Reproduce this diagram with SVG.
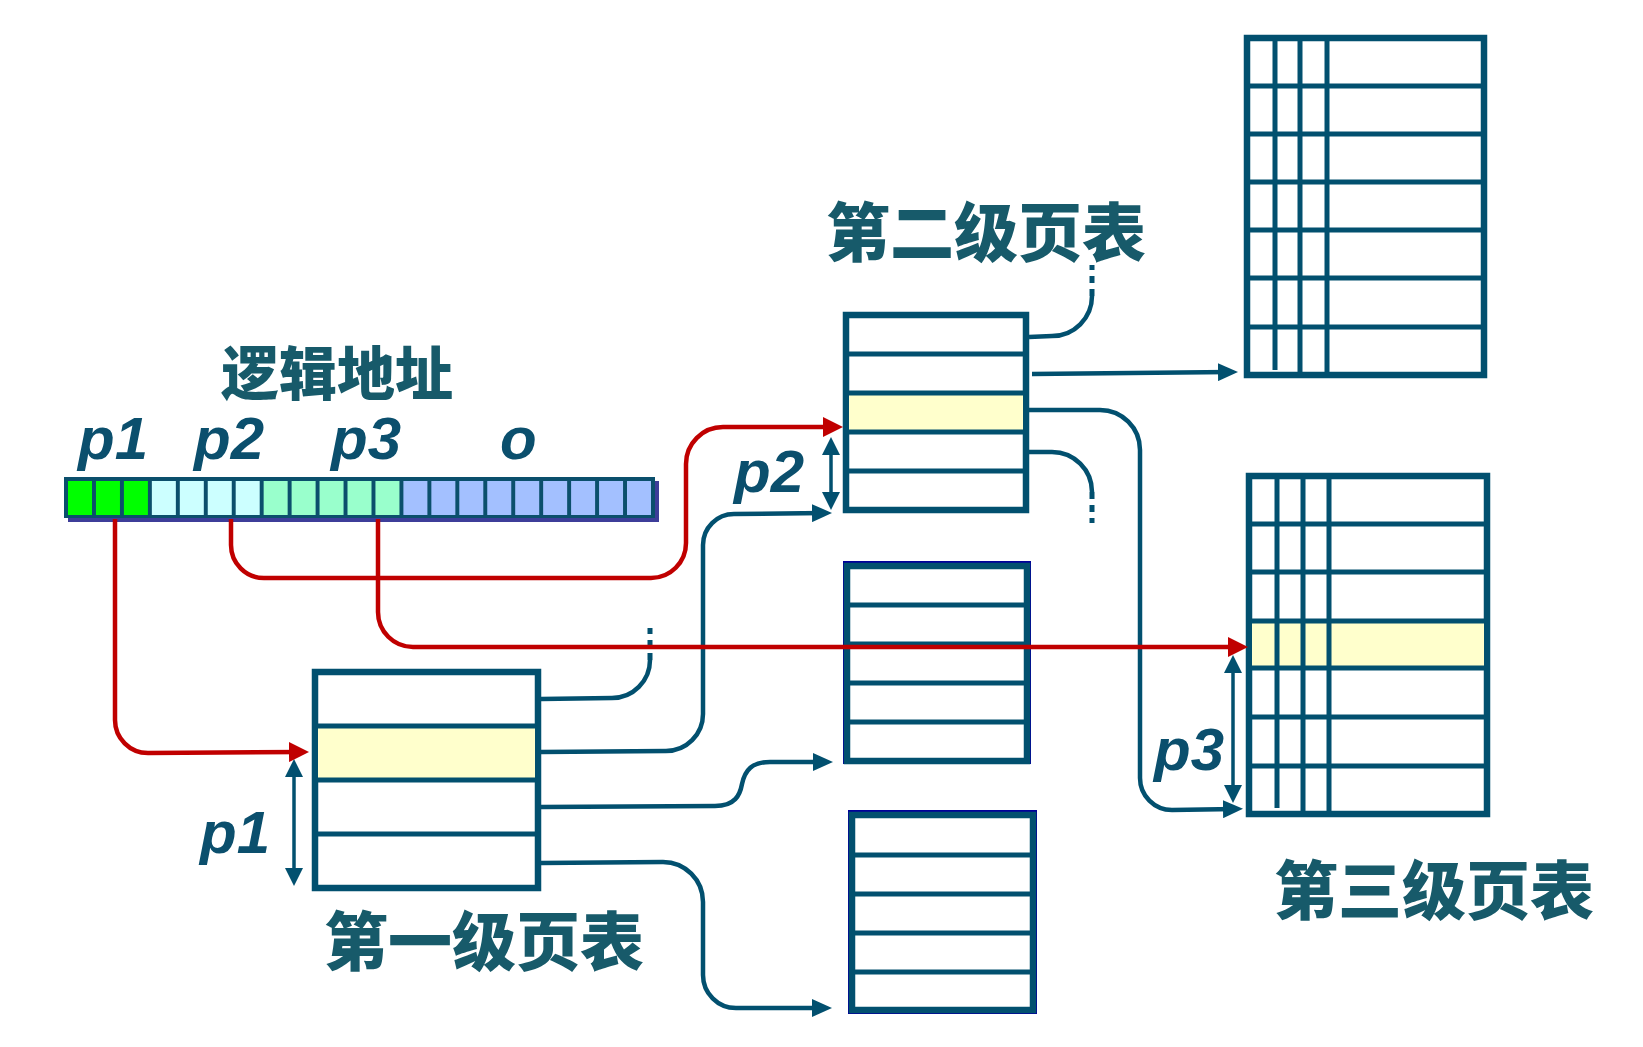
<svg xmlns="http://www.w3.org/2000/svg" width="1643" height="1047" viewBox="0 0 1643 1047">
<style>
.ln{fill:none;stroke:#02506f;stroke-width:4.5}
.red{fill:none;stroke:#c00000;stroke-width:4.5}
.off{fill:none;stroke:#02506f;stroke-width:3.5}
.dot{stroke-dasharray:7 6;stroke-width:5}
.tbl{fill:#ffffff;stroke:#02506f;stroke-width:6.5}
.dv{stroke:#02506f;stroke-width:5}
.hl{fill:#ffffcc}
.hd{font-family:"Noto Sans CJK SC","Noto Sans",sans-serif;font-weight:900;fill:#175a6a;text-anchor:middle}
.pl{font-family:"Liberation Sans",Arial,sans-serif;font-weight:700;font-style:italic;fill:#0b4f6d;font-size:60px}
.c1{fill:#00ff00}.c2{fill:#ccffff}.c3{fill:#99ffcc}.c4{fill:#a3c0ff}
</style>
<defs>
<marker id="at" markerUnits="userSpaceOnUse" markerWidth="20" markerHeight="18" refX="12" refY="9" orient="auto"><path d="M0,0 L20,9 L0,18 z" fill="#02506f"/></marker>
<marker id="ar" markerUnits="userSpaceOnUse" markerWidth="20" markerHeight="20" refX="12" refY="10" orient="auto"><path d="M0,0 L20,10 L0,20 z" fill="#c00000"/></marker>
<marker id="ad" markerUnits="userSpaceOnUse" markerWidth="18" markerHeight="18" refX="10" refY="9" orient="auto-start-reverse"><path d="M0,0 L18,9 L0,18 z" fill="#02506f"/></marker>
</defs>
<rect width="1643" height="1047" fill="#ffffff"/>

<g id="logical-address">
<text class="hd" x="337" y="395" font-size="58">逻辑地址</text>
<text class="pl" x="78" y="459">p1</text>
<text class="pl" x="194" y="459">p2</text>
<text class="pl" x="331" y="459">p3</text>
<text class="pl" x="500" y="459">o</text>
<rect x="68" y="481" width="591" height="41" fill="#3d3d99"/>
<rect x="64" y="477" width="591" height="41" fill="#0b4f6c"/>
<g>
<rect class="c1" x="68" y="481" width="24" height="34"/>
<rect class="c1" x="95.95" y="481" width="24" height="34"/>
<rect class="c1" x="123.9" y="481" width="24" height="34"/>
<rect class="c2" x="151.85" y="481" width="24" height="34"/>
<rect class="c2" x="179.8" y="481" width="24" height="34"/>
<rect class="c2" x="207.75" y="481" width="24" height="34"/>
<rect class="c2" x="235.7" y="481" width="24" height="34"/>
<rect class="c3" x="263.65" y="481" width="24" height="34"/>
<rect class="c3" x="291.6" y="481" width="24" height="34"/>
<rect class="c3" x="319.55" y="481" width="24" height="34"/>
<rect class="c3" x="347.5" y="481" width="24" height="34"/>
<rect class="c3" x="375.45" y="481" width="24" height="34"/>
<rect class="c4" x="403.4" y="481" width="24" height="34"/>
<rect class="c4" x="431.35" y="481" width="24" height="34"/>
<rect class="c4" x="459.3" y="481" width="24" height="34"/>
<rect class="c4" x="487.25" y="481" width="24" height="34"/>
<rect class="c4" x="515.2" y="481" width="24" height="34"/>
<rect class="c4" x="543.15" y="481" width="24" height="34"/>
<rect class="c4" x="571.1" y="481" width="24" height="34"/>
<rect class="c4" x="599.05" y="481" width="24" height="34"/>
<rect class="c4" x="627" y="481" width="24" height="34"/>
</g>
</g>

<g id="l1-table">
<rect class="tbl" x="315" y="672" width="223" height="216"/>
<rect class="hl" x="318" y="728" width="217" height="50"/>
<line class="dv" x1="315" y1="726" x2="538" y2="726"/>
<line class="dv" x1="315" y1="780" x2="538" y2="780"/>
<line class="dv" x1="315" y1="834" x2="538" y2="834"/>
<text class="hd" x="484" y="965" font-size="64">第一级页表</text>
</g>

<g id="l2-table-a">
<rect class="tbl" x="846" y="315" width="180" height="195"/>
<rect class="hl" x="849" y="395" width="174" height="35"/>
<line class="dv" x1="846" y1="354" x2="1026" y2="354"/>
<line class="dv" x1="846" y1="393" x2="1026" y2="393"/>
<line class="dv" x1="846" y1="432" x2="1026" y2="432"/>
<line class="dv" x1="846" y1="471" x2="1026" y2="471"/>
<text class="hd" x="986" y="256" font-size="64">第二级页表</text>
</g>

<g id="l2-table-b">
<rect x="844" y="562" width="186" height="201" fill="none" stroke="#000099" stroke-width="2"/>
<rect class="tbl" x="847" y="566" width="180" height="195"/>
<line class="dv" x1="847" y1="605" x2="1027" y2="605"/>
<line class="dv" x1="847" y1="644" x2="1027" y2="644"/>
<line class="dv" x1="847" y1="683" x2="1027" y2="683"/>
<line class="dv" x1="847" y1="722" x2="1027" y2="722"/>
</g>

<g id="l2-table-c">
<rect x="849" y="811" width="187" height="202" fill="none" stroke="#000099" stroke-width="2"/>
<rect class="tbl" x="852" y="815" width="181" height="195"/>
<line class="dv" x1="852" y1="855" x2="1033" y2="855"/>
<line class="dv" x1="852" y1="894" x2="1033" y2="894"/>
<line class="dv" x1="852" y1="933" x2="1033" y2="933"/>
<line class="dv" x1="852" y1="972" x2="1033" y2="972"/>
</g>

<g id="l3-table-a">
<rect class="tbl" x="1247" y="38" width="237" height="337"/>
<line class="dv" x1="1247" y1="86" x2="1484" y2="86"/>
<line class="dv" x1="1247" y1="134" x2="1484" y2="134"/>
<line class="dv" x1="1247" y1="182" x2="1484" y2="182"/>
<line class="dv" x1="1247" y1="230" x2="1484" y2="230"/>
<line class="dv" x1="1247" y1="278" x2="1484" y2="278"/>
<line class="dv" x1="1247" y1="327" x2="1484" y2="327"/>
<line class="dv" x1="1275" y1="38" x2="1275" y2="370"/>
<line class="dv" x1="1300" y1="38" x2="1300" y2="375"/>
<line class="dv" x1="1327" y1="38" x2="1327" y2="375"/>
</g>

<g id="l3-table-b">
<rect class="tbl" x="1249" y="476" width="238" height="338"/>
<rect class="hl" x="1252" y="621" width="232" height="47"/>
<line class="dv" x1="1249" y1="524" x2="1487" y2="524"/>
<line class="dv" x1="1249" y1="572" x2="1487" y2="572"/>
<line class="dv" x1="1249" y1="621" x2="1487" y2="621"/>
<line class="dv" x1="1249" y1="668" x2="1487" y2="668"/>
<line class="dv" x1="1249" y1="717" x2="1487" y2="717"/>
<line class="dv" x1="1249" y1="766" x2="1487" y2="766"/>
<line class="dv" x1="1277" y1="476" x2="1277" y2="808"/>
<line class="dv" x1="1303" y1="476" x2="1303" y2="814"/>
<line class="dv" x1="1329" y1="476" x2="1329" y2="814"/>
<text class="hd" x="1434" y="914" font-size="64">第三级页表</text>
</g>

<g id="connectors">
<path class="ln" d="M541,699 L612,698 A38,38 0 0 0 650,660"/>
<path class="ln dot" d="M650,660 L650,628"/>
<path class="ln" d="M541,752 L666,751 A37,37 0 0 0 703,714 L703,545 A31,31 0 0 1 734,514 L824,513" marker-end="url(#at)"/>
<path class="ln" d="M541,807 L715,806 C735,806 740,795 742,784 C745,770 752,762 770,762 L825,762" marker-end="url(#at)"/>
<path class="ln" d="M541,863 L663,862 A40,40 0 0 1 703,902 L703,975 A33,33 0 0 0 736,1008 L824,1008" marker-end="url(#at)"/>
<path class="ln" d="M1029,337 L1052,336 A40,40 0 0 0 1092,296"/>
<path class="ln dot" d="M1092,296 L1092,265"/>
<path class="ln" d="M1032,374 L1230,372" marker-end="url(#at)"/>
<path class="ln" d="M1029,410 L1100,410 A40,40 0 0 1 1140,450 L1140,778 A32,32 0 0 0 1172,810 L1235,809" marker-end="url(#at)"/>
<path class="ln" d="M1029,452 L1052,452 A40,40 0 0 1 1092,492"/>
<path class="ln dot" d="M1092,492 L1092,523"/>
<path class="off" d="M294,767 L294,878" marker-start="url(#ad)" marker-end="url(#ad)"/>
<text class="pl" x="200" y="853">p1</text>
<path class="off" d="M831,445 L831,502" marker-start="url(#ad)" marker-end="url(#ad)"/>
<text class="pl" x="734" y="492">p2</text>
<path class="off" d="M1233,663 L1233,795" marker-start="url(#ad)" marker-end="url(#ad)"/>
<text class="pl" x="1154" y="770">p3</text>
<path class="red" d="M115,519 L115,720 A33,33 0 0 0 148,753 L301,752" marker-end="url(#ar)"/>
<path class="red" d="M231,519 L231,545 A33,33 0 0 0 264,578 L651,578 A35,35 0 0 0 686,543 L686,464 A37,37 0 0 1 723,427 L835,427" marker-end="url(#ar)"/>
<path class="red" d="M378,519 L378,612 A35,35 0 0 0 413,647 L1240,647" marker-end="url(#ar)"/>
</g>
</svg>
